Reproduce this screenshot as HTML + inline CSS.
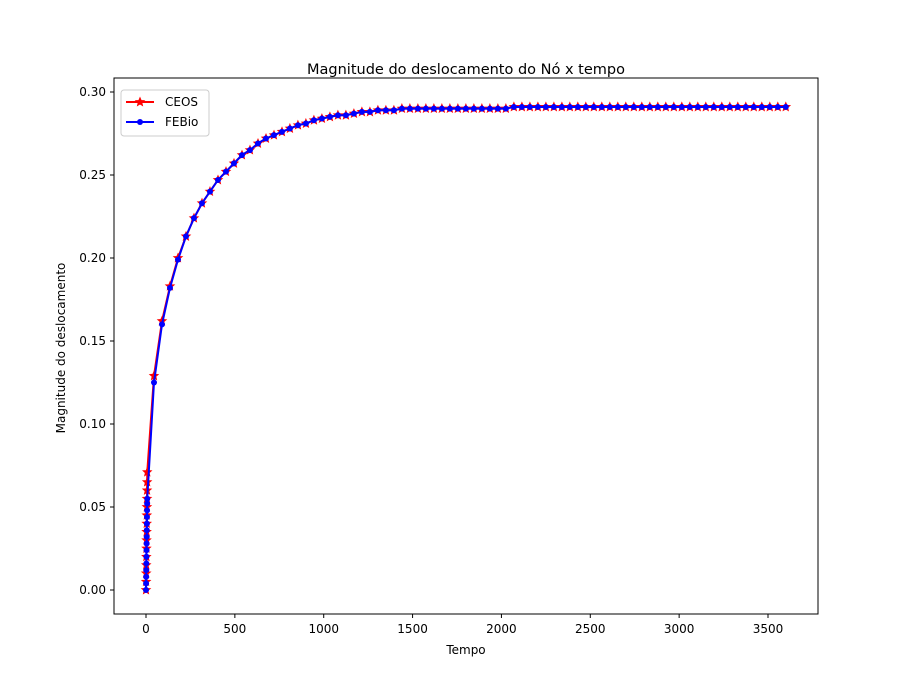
<!DOCTYPE html>
<html><head><meta charset="utf-8"><style>
body{margin:0;background:#fff}
svg text{font-family:"DejaVu Sans","Liberation Sans",sans-serif;fill:#000}
</style></head><body>
<svg id="c" width="909" height="690" xmlns="http://www.w3.org/2000/svg"></svg>
<script>
const times=[0,0.5,1,1.5,2,2.5,3,3.5,4,4.5,5,5.5,6,6.5,7,45,90,135,180,225,270,315,360,405,450,495,540,585,630,675,720,765,810,855,900,945,990,1035,1080,1125,1170,1215,1260,1305,1350,1395,1440,1485,1530,1575,1620,1665,1710,1755,1800,1845,1890,1935,1980,2025,2070,2115,2160,2205,2250,2295,2340,2385,2430,2475,2520,2565,2610,2655,2700,2745,2790,2835,2880,2925,2970,3015,3060,3105,3150,3195,3240,3285,3330,3375,3420,3465,3510,3555,3600];
const ceos=[0,0.005,0.01,0.015,0.02,0.025,0.03,0.035,0.04,0.045,0.05,0.055,0.06,0.065,0.071,0.129,0.162,0.183,0.200,0.213,0.224,0.233,0.240,0.247,0.252,0.257,0.262,0.265,0.269,0.272,0.274,0.276,0.278,0.280,0.281,0.283,0.284,0.285,0.286,0.286,0.287,0.288,0.288,0.289,0.289,0.289,0.290,0.290,0.290,0.290,0.290,0.290,0.290,0.290,0.290,0.290,0.290,0.290,0.290,0.290,0.291,0.291,0.291,0.291,0.291,0.291,0.291,0.291,0.291,0.291,0.291,0.291,0.291,0.291,0.291,0.291,0.291,0.291,0.291,0.291,0.291,0.291,0.291,0.291,0.291,0.291,0.291,0.291,0.291,0.291,0.291,0.291,0.291,0.291,0.291];
const febio=[0,0.004,0.008,0.012,0.016,0.02,0.024,0.028,0.032,0.036,0.04,0.044,0.048,0.052,0.055,0.125,0.160,0.182,0.199,0.213,0.224,0.233,0.240,0.247,0.252,0.257,0.262,0.265,0.269,0.272,0.274,0.276,0.278,0.280,0.281,0.283,0.284,0.285,0.286,0.286,0.287,0.288,0.288,0.289,0.289,0.289,0.290,0.290,0.290,0.290,0.290,0.290,0.290,0.290,0.290,0.290,0.290,0.290,0.290,0.290,0.291,0.291,0.291,0.291,0.291,0.291,0.291,0.291,0.291,0.291,0.291,0.291,0.291,0.291,0.291,0.291,0.291,0.291,0.291,0.291,0.291,0.291,0.291,0.291,0.291,0.291,0.291,0.291,0.291,0.291,0.291,0.291,0.291,0.291,0.291];
const xTicks=[0,500,1000,1500,2000,2500,3000,3500];
const yTicks=[0,0.05,0.10,0.15,0.20,0.25,0.30];
const yTickLabels=["0.00","0.05","0.10","0.15","0.20","0.25","0.30"];
const NS="http://www.w3.org/2000/svg",svg=document.getElementById('c');
const L=114,R=818,T=78,B=614;
const X=v=>146+v*(622/3500), Y=v=>590-v*(498/0.3);
function mk(t,a,p){const e=document.createElementNS(NS,t);for(const k in a)e.setAttribute(k,a[k]);(p||svg).appendChild(e);return e;}
let fr=mk('rect',{x:L,y:T,width:R-L,height:B-T,fill:'none',stroke:'#000','stroke-width':1});


xTicks.forEach(v=>{const x=X(v);mk('line',{x1:x,x2:x,y1:B,y2:B+4,stroke:'#000'});
 const t=mk('text',{x:x,y:B+19,'font-size':12,'text-anchor':'middle'});t.textContent=v;
 
 });
yTicks.forEach((v,i)=>{const y=Y(v);mk('line',{x1:L-4,x2:L,y1:y,y2:y,stroke:'#000'});
 const t=mk('text',{x:L-8,y:y+4,'font-size':12,'text-anchor':'end'});t.textContent=yTickLabels[i];
 
 });
function star(cx,cy,r,col,g){let p=[];for(let i=0;i<10;i++){const a=-Math.PI/2+i*Math.PI/5,rr=i%2?r*0.45:r;p.push((cx+rr*Math.cos(a)).toFixed(1)+','+(cy+rr*Math.sin(a)).toFixed(1));}
 mk('polygon',{points:p.join(' '),fill:col,stroke:col,'stroke-width':0.8},g);}
function series(vals,col,mark,name){const g=mk('g',{});
 
 
 mk('polyline',{points:times.map((t,i)=>X(t)+','+Y(vals[i])).join(' '),fill:'none',stroke:col,'stroke-width':2},g);
 times.forEach((t,i)=>{if(mark==='star')star(X(t),Y(vals[i]),4.5,col,g);else mk('circle',{cx:X(t),cy:Y(vals[i]),r:3,fill:col},g);});}
series(ceos,'#ff0000','star','ceos-series');
series(febio,'#0000ff','dot','febio-series');
const lg=mk('g',{});


mk('rect',{x:121,y:90,width:88,height:46,rx:3,fill:'#fff',stroke:'#ccc'},lg);
mk('line',{x1:126,x2:154,y1:102,y2:102,stroke:'#ff0000','stroke-width':2},lg);star(140,102,4.5,'#ff0000',lg);
let t1=mk('text',{x:165,y:106,'font-size':12},lg);t1.textContent='CEOS';
mk('line',{x1:126,x2:154,y1:122,y2:122,stroke:'#0000ff','stroke-width':2},lg);mk('circle',{cx:140,cy:122,r:3,fill:'#0000ff'},lg);
let t2=mk('text',{x:165,y:126,'font-size':12},lg);t2.textContent='FEBio';
let tt=mk('text',{x:466,y:74,'font-size':14.5,'text-anchor':'middle'});tt.textContent='Magnitude do deslocamento do Nó x tempo';


let xl=mk('text',{x:466,y:654,'font-size':12,'text-anchor':'middle'});xl.textContent='Tempo';


let yl=mk('text',{x:65,y:348,'font-size':12,'text-anchor':'middle',transform:'rotate(-90 65 348)'});yl.textContent='Magnitude do deslocamento';


</script>
</body></html>
